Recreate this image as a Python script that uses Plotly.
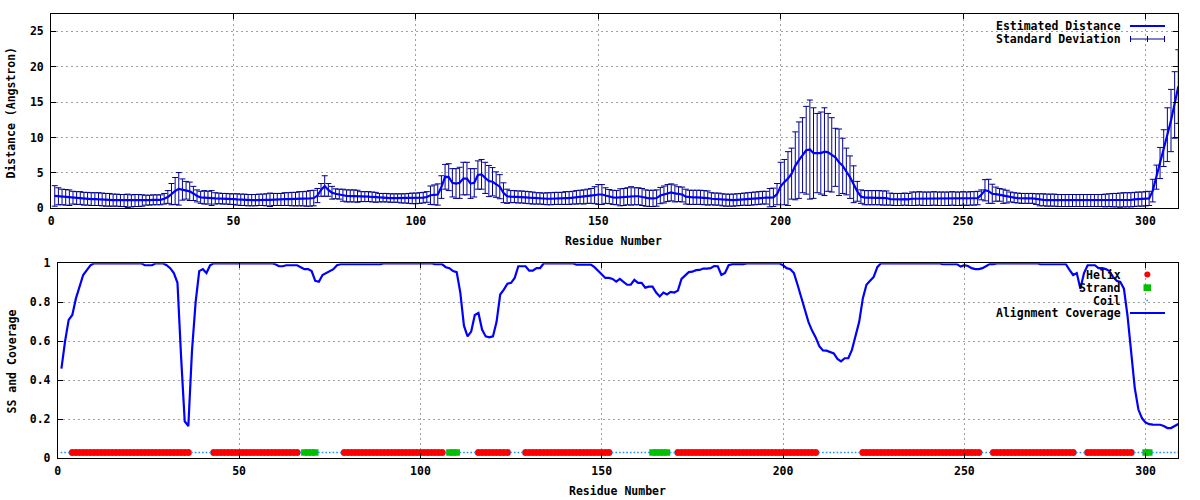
import plotly.graph_objects as go

# ---------------- data ----------------
residues = list(range(1, 310))

distance = [
    1.75, 1.70, 1.60, 1.55, 1.50, 1.50, 1.45, 1.45, 1.35, 1.35,
    1.30, 1.30, 1.30, 1.25, 1.20, 1.20, 1.15, 1.15, 1.10, 1.10,
    1.05, 1.05, 1.10, 1.10, 1.10, 1.15, 1.15, 1.20, 1.20, 1.20,
    1.35, 1.60, 2.00, 2.45, 2.75, 2.65, 2.55, 2.40, 2.10, 1.75,
    1.55, 1.55, 1.50, 1.45, 1.40, 1.40, 1.35, 1.35, 1.30, 1.30,
    1.25, 1.20, 1.20, 1.15, 1.15, 1.15, 1.20, 1.20, 1.20, 1.20,
    1.25, 1.25, 1.25, 1.30, 1.30, 1.30, 1.30, 1.35, 1.35, 1.35,
    1.40, 1.45, 1.80, 2.60, 3.15, 2.60, 2.20, 2.05, 2.00, 1.85,
    1.75, 1.75, 1.75, 1.70, 1.65, 1.65, 1.65, 1.60, 1.55, 1.50,
    1.50, 1.50, 1.45, 1.45, 1.45, 1.40, 1.40, 1.40, 1.40, 1.40,
    1.45, 1.50, 1.60, 1.85, 1.90, 1.95, 3.00, 4.45, 4.40, 3.60,
    3.50, 3.60, 4.20, 4.20, 3.50, 3.60, 4.70, 4.80, 4.30, 3.85,
    3.75, 3.35, 3.05, 2.20, 1.70, 1.65, 1.65, 1.60, 1.60, 1.55,
    1.50, 1.45, 1.40, 1.40, 1.35, 1.35, 1.35, 1.40, 1.40, 1.40,
    1.45, 1.45, 1.50, 1.55, 1.60, 1.60, 1.70, 1.75, 1.85, 1.95,
    1.95, 1.80, 1.65, 1.55, 1.50, 1.55, 1.60, 1.70, 1.75, 1.70,
    1.70, 1.60, 1.45, 1.40, 1.40, 1.45, 1.80, 1.95, 2.15, 2.25,
    2.10, 2.00, 1.95, 1.65, 1.55, 1.55, 1.55, 1.55, 1.50, 1.45,
    1.35, 1.30, 1.30, 1.20, 1.15, 1.15, 1.15, 1.20, 1.25, 1.30,
    1.30, 1.35, 1.40, 1.45, 1.50, 1.50, 1.50, 1.55, 2.00, 3.10,
    3.70, 4.20, 4.90, 6.00, 6.80, 7.50, 8.20, 8.30, 7.80, 7.80,
    7.80, 8.00, 7.90, 7.55, 7.20, 6.50, 6.00, 5.20, 4.40, 3.40,
    2.40, 1.65, 1.50, 1.50, 1.50, 1.50, 1.50, 1.45, 1.45, 1.30,
    1.25, 1.25, 1.25, 1.30, 1.25, 1.35, 1.35, 1.40, 1.35, 1.35,
    1.35, 1.40, 1.35, 1.35, 1.35, 1.35, 1.40, 1.35, 1.35, 1.40,
    1.35, 1.40, 1.40, 1.45, 1.90, 2.55, 2.40, 2.05, 2.00, 1.90,
    1.70, 1.65, 1.60, 1.50, 1.45, 1.40, 1.40, 1.40, 1.40, 1.30,
    1.20, 1.20, 1.15, 1.15, 1.15, 1.10, 1.10, 1.10, 1.10, 1.10,
    1.10, 1.10, 1.10, 1.10, 1.10, 1.10, 1.10, 1.10, 1.10, 1.15,
    1.15, 1.15, 1.15, 1.20, 1.20, 1.20, 1.25, 1.30, 1.30, 1.35,
    1.40, 2.50, 4.40, 6.40, 8.50, 10.40, 12.40, 14.60, 17.20,
]

std_dev = [
    1.45, 1.20, 1.10, 1.10, 1.10, 0.90, 0.90, 0.90, 0.90, 0.90,
    0.90, 0.90, 0.90, 0.90, 0.90, 0.90, 0.85, 0.85, 0.85, 0.85,
    0.95, 0.85, 0.85, 0.85, 0.80, 0.70, 0.70, 0.70, 0.70, 0.70,
    0.75, 0.90, 1.50, 1.90, 2.30, 1.50, 1.25, 1.30, 1.00, 0.85,
    0.85, 0.95, 0.90, 1.05, 0.80, 0.75, 0.75, 0.75, 0.75, 0.75,
    0.80, 0.80, 0.80, 0.80, 0.80, 0.80, 0.80, 0.80, 0.85, 0.95,
    0.85, 0.85, 0.85, 0.90, 0.90, 0.95, 0.95, 1.00, 1.00, 1.05,
    1.10, 1.10, 1.00, 0.90, 1.45, 0.90, 0.90, 0.70, 0.70, 0.85,
    0.85, 0.85, 0.85, 0.85, 0.70, 0.70, 0.70, 0.70, 0.70, 0.60,
    0.60, 0.60, 0.60, 0.60, 0.60, 0.65, 0.65, 0.70, 0.75, 0.75,
    0.75, 0.75, 0.75, 1.30, 1.40, 1.50, 1.60, 1.75, 1.90, 2.00,
    2.10, 2.20, 2.30, 2.30, 2.10, 2.00, 2.00, 2.10, 2.20, 2.20,
    2.00, 1.80, 1.70, 1.40, 1.00, 0.85, 0.85, 0.85, 0.85, 0.85,
    0.85, 0.85, 0.80, 0.80, 0.80, 0.85, 0.85, 0.85, 0.85, 0.85,
    0.90, 0.90, 0.90, 0.95, 0.95, 1.00, 1.00, 1.05, 1.20, 1.40,
    1.40, 1.10, 1.00, 1.00, 1.00, 1.20, 1.20, 1.20, 1.30, 1.20,
    1.20, 1.20, 1.15, 1.15, 1.15, 1.15, 1.15, 1.20, 1.20, 1.20,
    1.20, 1.05, 1.05, 1.05, 1.00, 1.00, 1.00, 1.00, 1.00, 1.00,
    0.85, 0.85, 0.85, 0.85, 0.85, 0.85, 0.85, 0.85, 0.85, 0.85,
    0.90, 0.90, 0.90, 0.90, 0.90, 0.90, 1.30, 1.30, 1.50, 3.40,
    3.20, 3.80, 3.60, 4.80, 5.40, 5.30, 6.20, 7.00, 6.40, 5.60,
    5.80, 6.20, 5.50, 5.25, 4.10, 4.70, 3.90, 3.30, 3.00, 2.60,
    1.40, 0.95, 1.00, 1.00, 1.00, 1.00, 1.00, 1.00, 1.00, 0.85,
    0.85, 0.85, 0.85, 0.85, 0.85, 0.95, 0.95, 0.95, 0.95, 0.95,
    0.95, 0.95, 0.95, 0.95, 0.95, 0.95, 0.95, 0.95, 0.95, 0.95,
    0.95, 0.95, 0.95, 0.95, 0.70, 1.50, 1.70, 1.35, 1.00, 0.90,
    1.00, 0.90, 0.70, 0.70, 0.70, 0.70, 0.70, 0.70, 0.70, 0.75,
    0.85, 0.85, 0.85, 0.85, 0.85, 0.85, 0.85, 0.85, 0.85, 0.85,
    0.85, 0.85, 0.85, 0.85, 0.85, 0.85, 0.85, 0.85, 0.90, 0.90,
    0.95, 0.95, 1.00, 1.00, 1.00, 1.00, 1.00, 1.00, 1.00, 1.00,
    1.00, 1.60, 1.70, 2.20, 2.60, 3.80, 4.40, 4.70, 5.20,
]

coverage = [
    0.46, 0.60, 0.71, 0.735, 0.82, 0.88, 0.94, 0.965, 0.99, 1.0,
    1.0, 1.0, 1.0, 1.0, 1.0, 1.0, 1.0, 1.0, 1.0, 1.0,
    1.0, 1.0, 1.0, 0.99, 0.99, 0.99, 1.0, 1.0, 1.0, 0.99,
    0.975, 0.95, 0.90, 0.52, 0.19, 0.165, 0.55, 0.80, 0.96, 0.97,
    0.95, 0.99, 1.0, 1.0, 1.0, 1.0, 1.0, 1.0, 1.0, 1.0,
    1.0, 1.0, 1.0, 1.0, 1.0, 1.0, 1.0, 1.0, 1.0, 0.995,
    0.985, 0.985, 0.99, 0.99, 0.99, 0.99, 0.98, 0.97, 0.97, 0.96,
    0.91, 0.905, 0.94, 0.95, 0.96, 0.97, 0.99, 0.995, 0.995, 0.995,
    0.995, 0.995, 0.995, 0.995, 0.995, 0.995, 0.995, 0.995, 0.995, 1.0,
    1.0, 1.0, 1.0, 1.0, 1.0, 1.0, 1.0, 1.0, 1.0, 1.0,
    1.0, 1.0, 1.0, 0.995, 0.995, 0.995, 0.98, 0.975, 0.96, 0.955,
    0.85, 0.68, 0.625, 0.65, 0.735, 0.745, 0.66, 0.625, 0.62, 0.625,
    0.70, 0.84, 0.865, 0.895, 0.90, 0.925, 0.985, 0.985, 0.985, 0.962,
    0.962, 0.975, 0.975, 1.0, 1.0, 1.0, 1.0, 1.0, 1.0, 1.0,
    1.0, 1.0, 0.993, 0.993, 0.993, 0.993, 0.993, 0.98, 0.96, 0.94,
    0.925, 0.925, 0.92, 0.906, 0.92, 0.905, 0.89, 0.89, 0.915, 0.90,
    0.90, 0.875, 0.88, 0.88, 0.85, 0.83, 0.85, 0.84, 0.853, 0.85,
    0.86, 0.92, 0.94, 0.955, 0.957, 0.965, 0.966, 0.973, 0.973, 0.975,
    0.986, 0.985, 0.94, 0.95, 0.99, 0.996, 0.996, 0.996, 0.996, 1.0,
    1.0, 1.0, 1.0, 1.0, 1.0, 1.0, 1.0, 1.0, 1.0, 0.99,
    0.975, 0.97, 0.95, 0.89, 0.83, 0.77, 0.70, 0.655, 0.62, 0.575,
    0.553, 0.552, 0.545, 0.538, 0.51, 0.497, 0.513, 0.513, 0.556, 0.635,
    0.70, 0.82, 0.89, 0.91, 0.93, 0.98, 1.0, 1.0, 1.0, 1.0,
    1.0, 1.0, 1.0, 1.0, 1.0, 1.0, 1.0, 1.0, 1.0, 1.0,
    1.0, 1.0, 1.0, 0.995, 0.995, 0.995, 0.995, 0.995, 0.983, 0.99,
    0.986, 0.975, 0.97, 0.97, 0.975, 0.986, 0.996, 0.996, 1.0, 1.0,
    1.0, 1.0, 1.0, 1.0, 1.0, 1.0, 1.0, 1.0, 1.0, 1.0,
    0.995, 0.995, 0.995, 0.995, 0.995, 0.995, 0.995, 0.995, 0.966, 0.94,
    0.95, 0.87, 0.95, 0.99, 0.99, 0.99, 0.975, 0.975, 0.97, 0.96,
    0.93, 0.91, 0.905, 0.87, 0.73, 0.55, 0.36, 0.25, 0.205, 0.183,
    0.175, 0.173, 0.173, 0.172, 0.166, 0.155, 0.155, 0.166, 0.176,
]

# secondary structure segments: (type, first residue, last residue)
ss_segments = [
    ("C", 1, 3), ("H", 4, 36), ("C", 37, 42), ("H", 43, 66), ("C", 67, 67),
    ("E", 68, 71), ("C", 72, 78), ("H", 79, 106), ("C", 107, 107),
    ("E", 108, 110), ("C", 111, 115), ("H", 116, 124), ("C", 125, 128),
    ("H", 129, 152), ("C", 153, 163), ("E", 164, 168), ("C", 169, 170),
    ("H", 171, 209), ("C", 210, 221), ("H", 222, 254), ("C", 255, 257),
    ("H", 258, 280), ("C", 281, 283), ("H", 284, 296), ("C", 297, 299),
    ("E", 300, 301), ("C", 302, 309),
]
ss_level = 0.03

assert len(distance) == len(residues), len(distance)
assert len(std_dev) == len(residues), len(std_dev)
assert len(coverage) == len(residues), len(coverage)

helix_x = [r for t, a, b in ss_segments if t == "H" for r in range(a, b + 1)]
strand_x = [r for t, a, b in ss_segments if t == "E" for r in range(a, b + 1)]
coil_x = [r for t, a, b in ss_segments if t == "C" for r in range(a, b + 1)]

# ---------------- style ----------------
W, H = 1200, 500
FONT = dict(family="DejaVu Sans Mono", size=11.5, color="black", weight="bold")
BLUE = "#0000ff"
NAVY = "#000090"
GRID = "#a0a0a0"


def px(x):
    return x / W


def py(y):
    return 1 - y / H


fig = go.Figure()

fig.add_trace(go.Scatter(
    x=residues, y=distance, mode="markers", xaxis="x", yaxis="y",
    marker=dict(size=1, color=NAVY),
    error_y=dict(type="data", array=std_dev, visible=True, color=NAVY,
                 thickness=1, width=3),
    name="Standard Deviation", showlegend=False, hoverinfo="skip",
))
fig.add_trace(go.Scatter(
    x=residues, y=distance, mode="lines", xaxis="x", yaxis="y",
    line=dict(color=BLUE, width=2.2), name="Estimated Distance", showlegend=False,
))

fig.add_trace(go.Scatter(
    x=helix_x, y=[ss_level] * len(helix_x), mode="markers", xaxis="x2", yaxis="y2",
    marker=dict(symbol="circle", size=7, color="#ff0000", line=dict(width=0)),
    name="Helix", showlegend=False,
))
fig.add_trace(go.Scatter(
    x=strand_x, y=[ss_level] * len(strand_x), mode="markers", xaxis="x2", yaxis="y2",
    marker=dict(symbol="square", size=6.5, color="#00c000", line=dict(width=0)),
    name="Strand", showlegend=False,
))
fig.add_trace(go.Scatter(
    x=coil_x, y=[ss_level] * len(coil_x), mode="markers", xaxis="x2", yaxis="y2",
    marker=dict(symbol="square", size=1.6, color="#1e90ff", line=dict(width=0)),
    name="Coil", showlegend=False,
))
fig.add_trace(go.Scatter(
    x=residues, y=coverage, mode="lines", xaxis="x2", yaxis="y2",
    line=dict(color=BLUE, width=2.2), name="Alignment Coverage", showlegend=False,
))

axis_common = dict(
    showline=True, linecolor="black", linewidth=1, mirror="ticks",
    ticks="inside", ticklen=5, tickwidth=1, tickcolor="black",
    showgrid=True, gridcolor=GRID, gridwidth=1, griddash="2px,3px",
    zeroline=False, tickfont=FONT, automargin=False,
)

fig.update_layout(
    width=W, height=H,
    margin=dict(l=0, r=0, t=0, b=0),
    paper_bgcolor="white", plot_bgcolor="white",
    showlegend=False,
    xaxis=dict(domain=[px(51.1), px(1178.3)], range=[0, 309], dtick=50, tick0=0,
               anchor="y", ticklabelstandoff=2, **axis_common),
    yaxis=dict(domain=[py(208.3), py(14)], range=[0, 27.45], dtick=5, tick0=0,
               anchor="x", ticklabelstandoff=4, **axis_common),
    xaxis2=dict(domain=[px(57.8), px(1178.3)], range=[0, 309], dtick=50, tick0=0,
                anchor="y2", ticklabelstandoff=2, **axis_common),
    yaxis2=dict(domain=[py(458.3), py(263.3)], range=[0, 1], dtick=0.2, tick0=0,
                anchor="x2", ticklabelstandoff=4, **axis_common),
)

ann = [
    dict(text="Distance (Angstron)", x=px(11), y=py(112.5), textangle=-90),
    dict(text="Residue Number", x=px(613.5), y=py(240.7)),
    dict(text="SS and Coverage", x=px(11), y=py(361.5), textangle=-90),
    dict(text="Residue Number", x=px(617), y=py(491)),
]
for a in ann:
    fig.add_annotation(xref="paper", yref="paper", showarrow=False,
                       xanchor="center", yanchor="middle", font=FONT, **a)

# legend texts (right-justified, gnuplot style)
legend_rows = [
    ("Estimated Distance", 26), ("Standard Deviation", 39),
    ("Helix", 275), ("Strand", 287.7), ("Coil", 300.7), ("Alignment Coverage", 313.3),
]
for txt, yy in legend_rows:
    fig.add_annotation(xref="paper", yref="paper", showarrow=False, text=txt,
                       x=px(1123), y=py(yy), xanchor="right", yanchor="middle",
                       font=FONT)

shapes = []
# legend samples
shapes.append(dict(type="line", xref="paper", yref="paper", x0=px(1130), x1=px(1165),
                   y0=py(26), y1=py(26), line=dict(color=BLUE, width=2.2)))
shapes.append(dict(type="line", xref="paper", yref="paper", x0=px(1130), x1=px(1165),
                   y0=py(39), y1=py(39), line=dict(color=NAVY, width=1)))
for xx in (1130.5, 1147.5, 1164.5):
    shapes.append(dict(type="line", xref="paper", yref="paper", x0=px(xx), x1=px(xx),
                       y0=py(36), y1=py(42), line=dict(color=NAVY, width=1)))
shapes.append(dict(type="circle", xref="paper", yref="paper",
                   x0=px(1144.3), x1=px(1150.3), y0=py(271.5), y1=py(277.5),
                   fillcolor="#ff0000", line=dict(width=0)))
shapes.append(dict(type="rect", xref="paper", yref="paper",
                   x0=px(1143.5), x1=px(1151), y0=py(284.3), y1=py(291),
                   fillcolor="#00c000", line=dict(width=0)))
shapes.append(dict(type="rect", xref="paper", yref="paper",
                   x0=px(1146.5), x1=px(1148), y0=py(299.8), y1=py(301.3),
                   fillcolor="#1e90ff", line=dict(width=0)))
shapes.append(dict(type="line", xref="paper", yref="paper", x0=px(1130), x1=px(1165),
                   y0=py(313), y1=py(313), line=dict(color=BLUE, width=2.2)))
fig.update_layout(shapes=shapes)

fig.write_html("out.html", config={"displayModeBar": False},
               post_script="document.body.style.margin='0';document.body.style.overflow='hidden';")
